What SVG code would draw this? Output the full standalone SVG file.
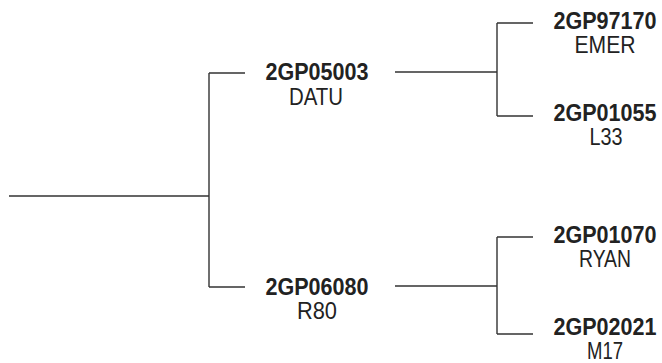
<svg xmlns="http://www.w3.org/2000/svg" width="662" height="363" viewBox="0 0 662 363">
<style>
.ln{stroke:#333;stroke-width:1.4;fill:none}
.b{font-family:"Liberation Sans",Arial,sans-serif;font-weight:bold;font-size:23px;fill:#222;text-anchor:middle}
.r{font-family:"Liberation Sans",Arial,sans-serif;font-size:23px;fill:#222;text-anchor:middle}
</style>
<rect width="662" height="363" fill="#fff"/>
<g id="connectors">
<path class="ln" d="M9 196H209M209 73V287M209 73H245M209 287H245"/>
<path class="ln" d="M395 72H497M497 23V116M497 23H533M497 116H533"/>
<path class="ln" d="M395 286H497M497 237V334M497 237H533M497 334H533"/>
</g>
<g id="n-2GP05003"><text class="b" x="317" y="80" textLength="103" lengthAdjust="spacingAndGlyphs">2GP05003</text><text class="r" x="316" y="104.5" textLength="54" lengthAdjust="spacingAndGlyphs">DATU</text></g>
<g id="n-2GP06080"><text class="b" x="317" y="294.5" textLength="103" lengthAdjust="spacingAndGlyphs">2GP06080</text><text class="r" x="317" y="318.5" textLength="40" lengthAdjust="spacingAndGlyphs">R80</text></g>
<g id="n-2GP97170"><text class="b" x="605" y="28.5" textLength="103" lengthAdjust="spacingAndGlyphs">2GP97170</text><text class="r" x="605" y="52.5" textLength="61" lengthAdjust="spacingAndGlyphs">EMER</text></g>
<g id="n-2GP01055"><text class="b" x="605" y="120.5" textLength="103" lengthAdjust="spacingAndGlyphs">2GP01055</text><text class="r" x="606" y="145" textLength="33" lengthAdjust="spacingAndGlyphs">L33</text></g>
<g id="n-2GP01070"><text class="b" x="605" y="242.5" textLength="103" lengthAdjust="spacingAndGlyphs">2GP01070</text><text class="r" x="605" y="266.5" textLength="52" lengthAdjust="spacingAndGlyphs">RYAN</text></g>
<g id="n-2GP02021"><text class="b" x="605" y="334.5" textLength="103" lengthAdjust="spacingAndGlyphs">2GP02021</text><text class="r" x="605" y="358.5" textLength="36" lengthAdjust="spacingAndGlyphs">M17</text></g>
</svg>
